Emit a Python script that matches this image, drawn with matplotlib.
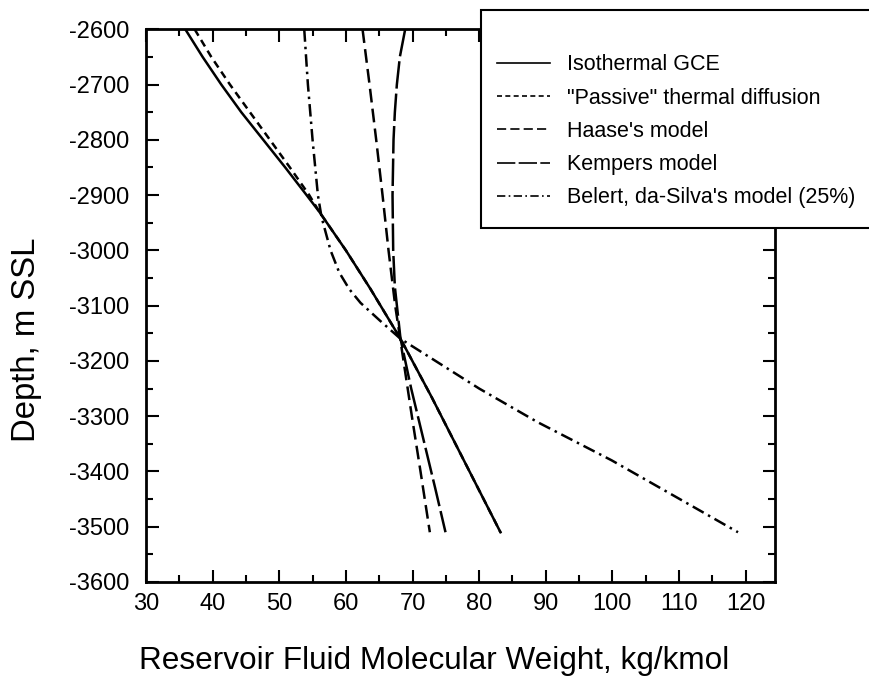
import matplotlib
matplotlib.use("Agg")
import matplotlib.pyplot as plt
from matplotlib.patches import Rectangle
from matplotlib.lines import Line2D
from matplotlib.ticker import MultipleLocator

plt.rcParams['font.family'] = ['Liberation Sans', 'DejaVu Sans']
plt.rcParams['axes.unicode_minus'] = False

# values: (depth m SSL, molecular weight kg/kmol)
gce_depth = [-2600, -2650, -2700, -2750, -2800, -2850, -2900, -2930, -3000,
             -3070, -3160, -3265, -3510]
gce_mw = [35.9, 38.5, 41.3, 44.3, 47.6, 50.9, 54.1, 56.0, 60.0,
          63.7, 68.2, 72.85, 83.2]

passive_depth = [-2600, -2650, -2700, -2750, -2800, -2850, -2900, -2930, -3000,
                 -3070, -3160, -3265, -3510]
passive_mw = [37.3, 39.8, 42.6, 45.6, 48.6, 51.6, 54.5, 56.0, 60.0,
              63.7, 68.2, 72.85, 83.2]

haase_depth = [-2600, -2700, -2800, -2900, -3000, -3100, -3160, -3300, -3400, -3510]
haase_mw = [62.5, 63.55, 64.55, 65.5, 66.4, 67.4, 68.15, 69.9, 71.2, 72.6]

kempers_depth = [-2600, -2650, -2700, -2750, -2800, -2900, -3000, -3066, -3160,
                 -3250, -3350, -3430, -3510]
kempers_mw = [68.9, 68.1, 67.65, 67.35, 67.15, 67.0, 67.1, 67.35, 68.2,
              69.8, 71.8, 73.4, 74.95]

belert_depth = [-2600, -2700, -2800, -2900, -2940, -3000, -3040, -3070, -3095,
                -3127, -3160, -3250, -3311, -3380, -3510]
belert_mw = [53.75, 54.3, 55.0, 55.8, 56.35, 57.7, 59.0, 60.5, 62.2,
             65.1, 68.2, 80.0, 88.8, 99.9, 118.85]

labels = ['Isothermal GCE', '"Passive" thermal diffusion', "Haase's model",
          'Kempers model', "Belert, da-Silva's model (25%)"]

fig = plt.figure(figsize=(8.7, 6.81), dpi=100)
ax = fig.add_axes([0.1678, 0.1454, 0.723, 0.8116])

lw = 1.8
styles = ['-', (0, (3, 2)), (0, (5.5, 2.5)), (0, (11, 2)), (0, (5, 2, 1, 2))]
series = [(gce_mw, gce_depth), (passive_mw, passive_depth), (haase_mw, haase_depth),
          (kempers_mw, kempers_depth), (belert_mw, belert_depth)]
for (x, y), s in zip(series, styles):
    ax.plot(x, y, color='black', lw=lw, ls=s)

ax.set_xlim(30, 124.4)
ax.set_ylim(-3600, -2600)
ax.xaxis.set_major_locator(MultipleLocator(10))
ax.xaxis.set_minor_locator(MultipleLocator(5))
ax.yaxis.set_major_locator(MultipleLocator(100))
ax.yaxis.set_minor_locator(MultipleLocator(50))
ax.tick_params(which='both', direction='in', top=True, right=True, width=1.5)
ax.tick_params(which='major', length=9, labelsize=17)
ax.tick_params(which='minor', length=5)
ax.tick_params(axis='x', pad=8)
ax.tick_params(axis='y', pad=12)
for s in ax.spines.values():
    s.set_linewidth(2)

# axis titles sit a bit off-centre in the original
fig.text(0.499, 0.029, 'Reservoir Fluid Molecular Weight, kg/kmol',
         fontsize=22.7, ha='center', va='center')
fig.text(0.030, 1 - 340 / 681, 'Depth, m SSL', fontsize=23.7,
         rotation=90, ha='center', va='center')

# legend box sticks out over the top right corner
box = Rectangle((0.553, 0.665), 0.5, 0.32, transform=fig.transFigure,
                facecolor='white', edgecolor='black', lw=1.5, zorder=5)
fig.add_artist(box)

handles = [Line2D([], [], color='black', lw=1.2, ls=s) for s in styles]
leg = fig.legend(handles, labels, loc='upper left', bbox_to_anchor=(0.549, 0.9486),
                 frameon=False, fontsize=15.5, handlelength=2.45, handletextpad=0.8,
                 labelspacing=0.57)
leg.set_zorder(6)

fig.savefig('out.png', dpi=100)
